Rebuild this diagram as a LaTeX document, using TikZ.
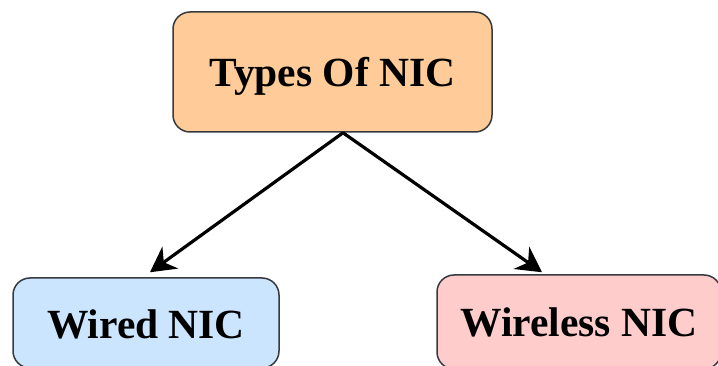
\documentclass[tikz,border=0pt]{standalone}
\usepackage{fontspec}
\setmainfont{Liberation Serif}
\usetikzlibrary{arrows.meta,positioning}
\definecolor{borderdark}{RGB}{54,57,61}
\definecolor{typesorange}{RGB}{255,204,153}
\definecolor{wiredblue}{RGB}{204,229,255}
\definecolor{wirelesspink}{RGB}{255,204,204}

\begin{document}
\begin{tikzpicture}[
    x=1pt, y=-1pt,
    box/.style={rectangle, rounded corners=17pt, draw=borderdark, line width=1.5pt,
        font=\fontsize{41.5}{48}\selectfont\bfseries, text height=30pt, text depth=0pt},
    arr/.style={-{Stealth[length=25pt, width=27pt, inset=8pt]}, line width=3.2pt}
]
\useasboundingbox (0,0) rectangle (718,366);
\clip (0,0) rectangle (718,366);

% Top node
\node[box, fill=typesorange, minimum width=319pt, minimum height=120pt] (types) at (332.5, 72) {Types Of NIC};

% Bottom nodes
\node[box, fill=wiredblue, minimum width=266pt, minimum height=90pt] (wired) at (146, 323) {Wired NIC};
\node[box, fill=wirelesspink, minimum width=284pt, minimum height=94pt] (wireless) at (579, 322) {Wireless NIC};

% Arrows
\coordinate (split) at ([xshift=10.5pt]types.south);
\draw[arr] (split) -- ([xshift=4pt, yshift=5pt]wired.north);
\draw[arr] (split) -- ([xshift=-37pt, yshift=2pt]wireless.north);

\end{tikzpicture}
\end{document}
